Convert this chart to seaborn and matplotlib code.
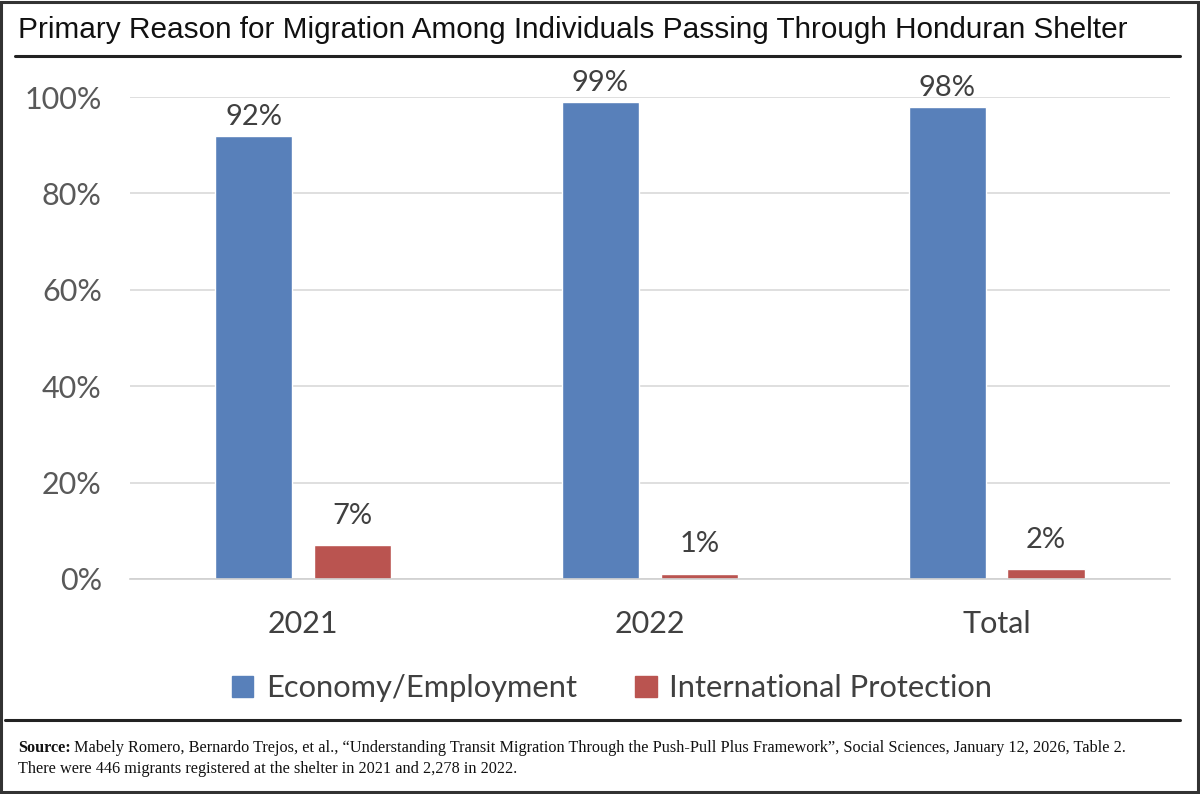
import pandas as pd
import matplotlib.pyplot as plt
from matplotlib.patches import Rectangle
from matplotlib.lines import Line2D
import seaborn as sns

# Dados
categories = ["2021", "2022", "Total"]
economy = [92, 99, 98]
protection = [7, 1, 2]
series_names = ["Economy/Employment", "International Protection"]
colors = ["#5880BA", "#BA5450"]

df = pd.DataFrame({
    "category": categories * 2,
    "reason": [series_names[0]] * 3 + [series_names[1]] * 3,
    "value": economy + protection,
})

sns.set_theme(style="white")
plt.rcParams["font.family"] = ["Lato", "DejaVu Sans"]

fig = plt.figure(figsize=(12, 7.94), dpi=100)
ax = fig.add_axes([0.108, 0.2708, 0.867, 0.607])

sns.barplot(data=df, x="category", y="value", hue="reason", palette=colors,
            width=0.57, gap=0.22, saturation=1, legend=False, ax=ax)

for cont, pad in zip(ax.containers, [4, 12]):
    ax.bar_label(cont, labels=[f"{v:.0f}%" for v in cont.datavalues],
                 padding=pad, fontsize=21, color="#404040", clip_on=False)

ax.set_ylim(0, 100)
ax.set_yticks(range(0, 101, 20))
ax.set_yticklabels([f"{t}%" for t in range(0, 101, 20)])
ax.yaxis.grid(True, color="#D9D9D9", linewidth=1.2)
ax.set_axisbelow(True)
for s in ["top", "right", "left"]:
    ax.spines[s].set_visible(False)
ax.spines["bottom"].set_color("#D0D0D0")
ax.spines["bottom"].set_linewidth(1.2)
ax.tick_params(axis="y", length=0, pad=20, labelsize=22, labelcolor="#595959")
ax.tick_params(axis="x", length=0, pad=22, labelsize=22, labelcolor="#404040")
ax.set_xlabel("")
ax.set_ylabel("")

# Legenda
handles = [Rectangle((0, 0), 1, 1, color=c) for c in colors]
fig.legend(handles, series_names, loc="center", bbox_to_anchor=(0.51, 0.133),
           ncol=2, frameon=False, fontsize=22.2, labelcolor="#404040",
           handlelength=0.7, handleheight=0.7, handletextpad=0.4, columnspacing=1.9)

# Titulo, linhas e borda
fig.text(0.015, 0.962, "Primary Reason for Migration Among Individuals Passing Through Honduran Shelter",
         fontsize=21.4, family="Liberation Sans", color="#111111", va="center")
fig.add_artist(Line2D([0.0125, 0.983], [0.9295, 0.9295], color="#222222", lw=2.2))
fig.add_artist(Line2D([0.004, 0.983], [0.0935, 0.0935], color="#222222", lw=2.2))
fig.add_artist(Rectangle((0.001, 0.002), 0.997, 0.996, fill=False, edgecolor="#333333", lw=2.2))

# Fonte (rodape)
src = fig.text(0.015, 0.058, "Source:", fontsize=11.7, family="Liberation Serif",
               weight="bold", color="#111111", va="center")
fig.canvas.draw()
bb = src.get_window_extent().transformed(fig.transFigure.inverted())
fig.text(bb.x1 + 0.003, 0.058,
         "Mabely Romero, Bernardo Trejos, et al., \u201cUnderstanding Transit Migration Through the Push-Pull Plus Framework\u201d, Social Sciences, January 12, 2026, Table 2.",
         fontsize=11.7, family="Liberation Serif", color="#111111", va="center")
fig.text(0.015, 0.031, "There were 446 migrants registered at the shelter in 2021 and 2,278 in 2022.",
         fontsize=11.7, family="Liberation Serif", color="#111111", va="center")

plt.savefig("out.png", dpi=100)
